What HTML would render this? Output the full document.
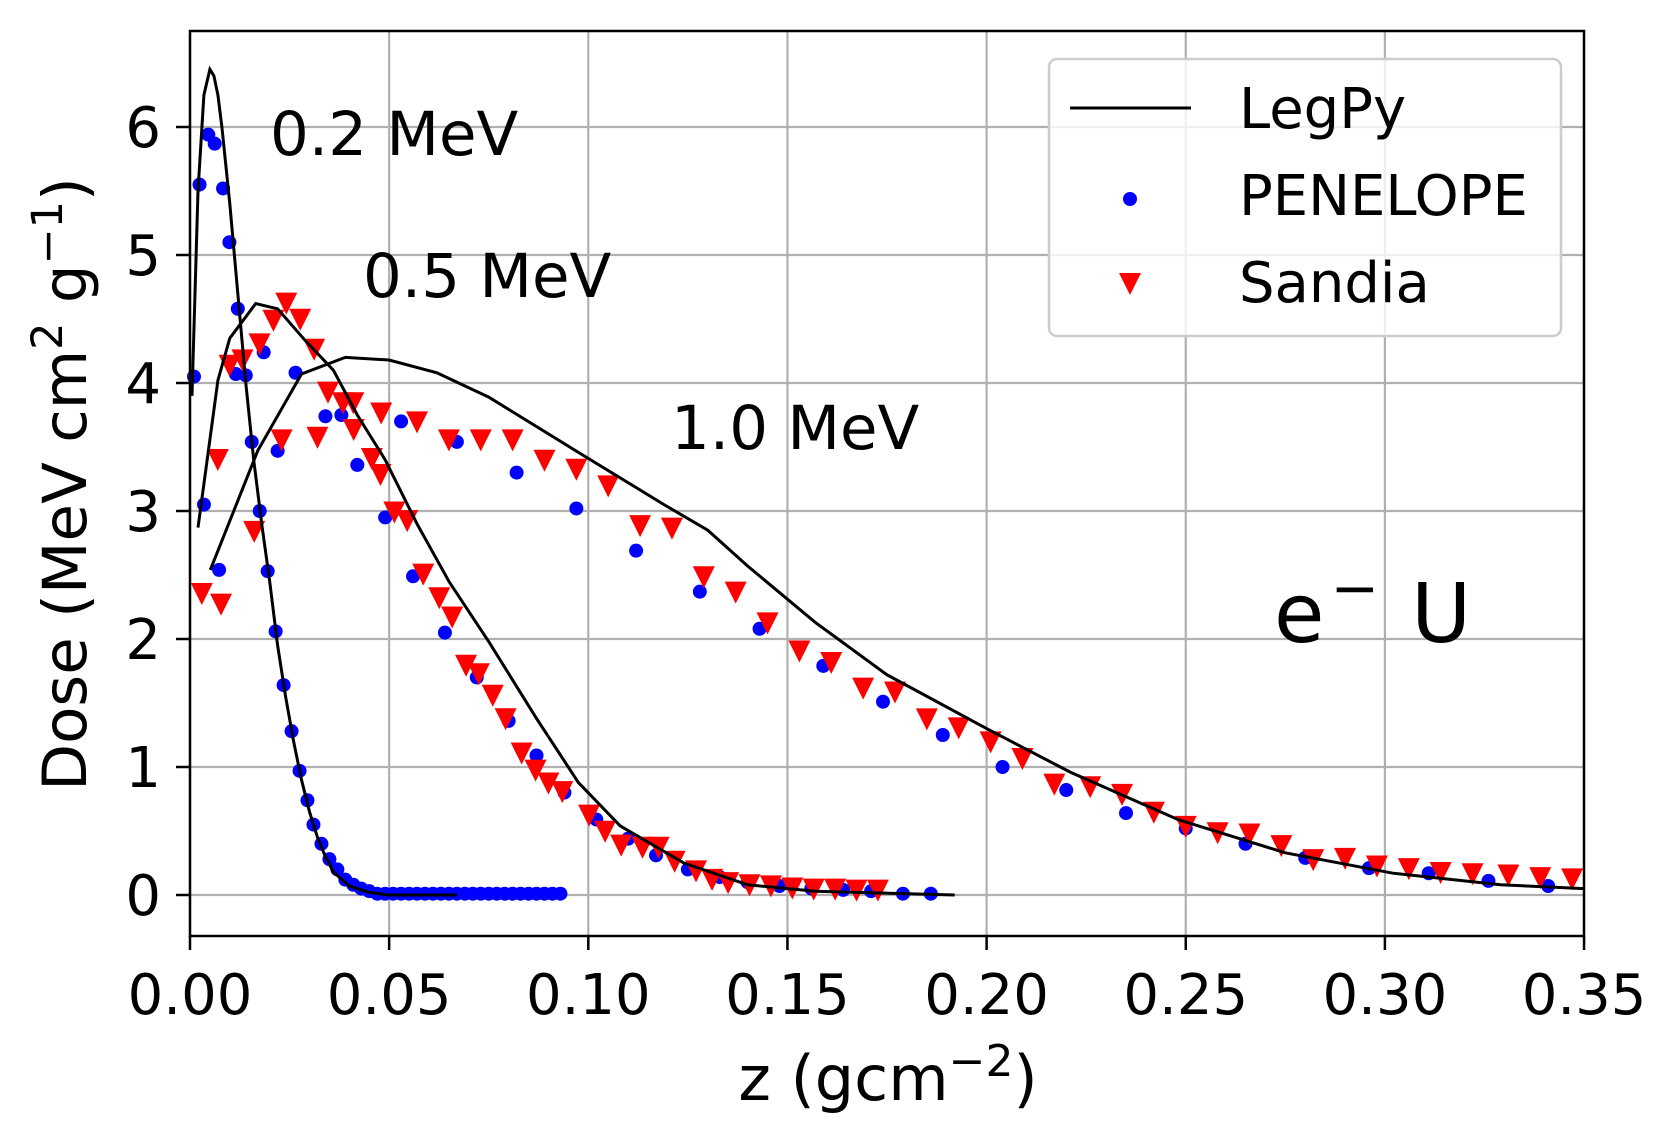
<!DOCTYPE html>
<html><head><meta charset="utf-8"><style>
html,body{margin:0;padding:0;background:#fff;}
svg{display:block;font-family:"DejaVu Sans","Liberation Sans",sans-serif;}
</style></head><body>
<svg id="s" width="1678" height="1144" viewBox="0 0 1678 1144" xmlns="http://www.w3.org/2000/svg"></svg>
<script>
const X=z=>190+z*3983, Y=d=>895-d*128;
let h='<rect width="1678" height="1144" fill="#fff"/>';
for(let i=0;i<=7;i++){const x=X(i*0.05);h+=`<line x1="${x}" y1="31" x2="${x}" y2="936" stroke="#b0b0b0" stroke-width="2.2"/>`;}
for(let i=0;i<=6;i++){const y=Y(i);h+=`<line x1="190" y1="${y}" x2="1584" y2="${y}" stroke="#b0b0b0" stroke-width="2.2"/>`;}
const P=a=>a.map(p=>X(p[0]).toFixed(1)+','+Y(p[1]).toFixed(1)).join(' ');
const dots=(a)=>{for(const p of a)h+=`<circle cx="${X(p[0])}" cy="${Y(p[1])}" r="7" fill="#0000ff"/>`;};
const tris=(a)=>{for(const p of a){const x=X(p[0]),y=Y(p[1]);h+=`<polygon points="${x-11},${y-10} ${x+11},${y-10} ${x},${y+12}" fill="#ff0000"/>`;}};
let b2=[[.001,4.05],[.0024,5.55],[.0035,3.05],[.0046,5.94],[.0062,5.87],[.0083,5.52],[.0099,5.1],[.0115,4.07],[.012,4.58],[.014,4.06],[.0155,3.54],[.0175,3.0],[.0195,2.53],[.0215,2.06],[.0235,1.64],[.0255,1.28],[.0275,.97],[.0295,.74],[.031,.55],[.033,.4],[.035,.28],[.037,.2],[.039,.12],[.041,.08],[.043,.05],[.045,.03]];
for(let z=.047;z<=.0945;z+=.002)b2.push([z,.01]);
dots(b2);
dots([[.0185,4.24],[.022,3.47],[.0265,4.08],[.034,3.74],[.038,3.75],[.042,3.36],[.049,2.95],[.056,2.49],[.064,2.05],[.072,1.7],[.080,1.36],[.087,1.09],[.094,.8],[.102,.59],[.11,.44],[.117,.31],[.125,.2],[.133,.14],[.14,.1],[.148,.07],[.156,.05],[.164,.04],[.171,.03],[.179,.01],[.186,.01]]);
dots([[.0073,2.54],[.053,3.7],[.067,3.54],[.082,3.3],[.097,3.02],[.112,2.69],[.128,2.37],[.143,2.08],[.159,1.79],[.174,1.51],[.189,1.25],[.204,1.0],[.22,.82],[.235,.64],[.25,.52],[.265,.4],[.28,.29],[.296,.21],[.311,.17],[.326,.11],[.341,.07]]);
const rd=[[188,553],[206,563],[203,428],[214,340],[226,335],[237,495],[242,320],[255,298],[267,282],[280,297],[293,325],[306,365],[320,375],[330,400],[347,427],[355,442],[368,477],[380,485],[395,535],[410,557],[422,575],[435,620],[447,628],[460,648],[472,670],[487,702],[500,718],[512,730],[525,738],[550,760],[565,775],[580,788],[600,790],[615,790],[630,803],[650,812],[665,820],[680,823],[700,825],[720,826],[740,828],[760,829],[780,829],[800,830],[820,830]];
tris(rd.map(p=>[(p[0]-177)/3723,(835-p[1])/119.5]));
tris([[.023,3.56],[.032,3.58],[.041,3.85],[.048,3.77],[.057,3.7],[.065,3.56],[.073,3.56],[.081,3.56],[.089,3.4],[.097,3.33],[.105,3.2],[.113,2.89],[.121,2.87],[.129,2.49],[.137,2.37],[.145,2.13],[.153,1.91],[.161,1.82],[.169,1.62],[.177,1.59],[.185,1.38],[.193,1.31],[.201,1.2],[.209,1.07],[.217,.87],[.226,.85],[.234,.79],[.242,.65],[.250,.54],[.258,.49],[.266,.48],[.274,.39],[.282,.28],[.290,.29],[.298,.23],[.306,.21],[.314,.18],[.322,.17],[.331,.16],[.339,.14],[.347,.13]]);
const L=a=>h+=`<polyline points="${P(a)}" fill="none" stroke="#000" stroke-width="3"/>`;
L([[.0005,3.9],[.002,5.5],[.0035,6.25],[.005,6.45],[.006,6.4],[.007,6.25],[.008,6.0],[.01,5.4],[.012,4.7],[.014,4.0],[.016,3.4],[.018,2.9],[.02,2.45],[.022,1.95],[.024,1.55],[.026,1.2],[.028,.9],[.030,.65],[.032,.45],[.034,.3],[.036,.18],[.04,.07],[.045,.02],[.05,0],[.067,0]]);
L([[.002,2.87],[.007,4.02],[.010,4.35],[.0165,4.62],[.022,4.58],[.029,4.33],[.036,4.1],[.042,3.75],[.049,3.4],[.057,2.9],[.065,2.45],[.075,1.98],[.087,1.38],[.0975,.88],[.108,.54],[.124,.25],[.14,.08],[.157,.03],[.192,0]]);
L([[.0051,2.54],[.017,3.47],[.028,4.07],[.039,4.2],[.050,4.18],[.062,4.08],[.075,3.89],[.099,3.43],[.119,3.05],[.13,2.85],[.14,2.57],[.157,2.13],[.175,1.72],[.2,1.3],[.221,.96],[.248,.59],[.275,.33],[.302,.17],[.329,.08],[.35,.05]]);
h+=`<rect x="190" y="31" width="1394" height="905" fill="none" stroke="#000" stroke-width="2.5"/>`;
for(let i=0;i<=7;i++){const x=X(i*0.05);h+=`<line x1="${x}" y1="936" x2="${x}" y2="950" stroke="#000" stroke-width="2.5"/><text x="${x}" y="1014" font-size="56" text-anchor="middle">${(i*0.05).toFixed(2)}</text>`;}
for(let i=0;i<=6;i++){const y=Y(i);h+=`<line x1="176" y1="${y}" x2="190" y2="${y}" stroke="#000" stroke-width="2.5"/><text x="161" y="${y+20}" font-size="56" text-anchor="end">${i}</text>`;}
h+=`<text x="888" y="1100" font-size="62" text-anchor="middle">z (gcm<tspan dy="-24" font-size="44">−2</tspan><tspan dy="24">)</tspan></text>`;
h+=`<text transform="translate(86,484) rotate(-90)" font-size="61" text-anchor="middle">Dose (MeV cm<tspan dy="-24" font-size="43">2</tspan><tspan dy="24"> g</tspan><tspan dy="-24" font-size="43">−1</tspan><tspan dy="24">)</tspan></text>`;
h+=`<text x="270" y="155" font-size="61">0.2 MeV</text><text x="363" y="297" font-size="61">0.5 MeV</text><text x="671" y="449" font-size="61">1.0 MeV</text>`;
h+=`<text x="1274" y="642" font-size="82">e<tspan dx="6" dy="-34" font-size="58">−</tspan><tspan dx="6" dy="34"> U</tspan></text>`;
h+=`<rect x="1049" y="59" width="512" height="277" rx="8" fill="#fff" fill-opacity="0.8" stroke="#ccc" stroke-width="2.5"/>`;
h+=`<line x1="1070" y1="108" x2="1191" y2="108" stroke="#000" stroke-width="3"/>`;
h+=`<circle cx="1130" cy="199" r="7" fill="#0000ff"/><polygon points="1119,273 1141,273 1130,295" fill="#ff0000"/>`;
h+=`<text x="1239" y="128" font-size="56">LegPy</text><text x="1239" y="215" font-size="56">PENELOPE</text><text x="1239" y="302" font-size="56">Sandia</text>`;
document.getElementById('s').innerHTML=h;
</script>
</body></html>
